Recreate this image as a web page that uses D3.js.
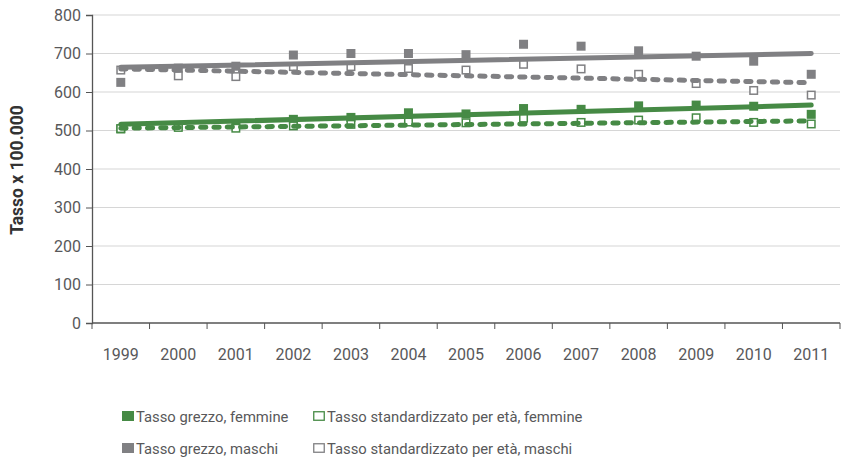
<!DOCTYPE html>
<html><head><meta charset="utf-8">
<script src="https://cdn.jsdelivr.net/npm/d3@7"></script>
<style>
html,body{margin:0;padding:0;background:#fff;}
svg text{font-family:Roboto,"Liberation Sans",sans-serif;}
</style></head>
<body>
<svg id="chart" width="843" height="464"></svg>
<script>
const years = ["1999","2000","2001","2002","2003","2004","2005","2006","2007","2008","2009","2010","2011"];
const grezzoFemmine = [504,512,516,529,534,546,543,557,555,564,566,563,542];
const standFemmine  = [505,508,506,512,516,522,520,532,521,527,533,521,517];
const grezzoMaschi  = [625,662,667,696,700,700,697,724,719,707,693,680,646];
const standMaschi   = [657,642,640,666,666,661,657,672,660,646,622,604,592];
// trend line endpoints (1999, 2011)
const trendGrezzoF = [516,566];
const trendStandF  = [506,525];
const trendGrezzoM = [664,700];
const trendStandM  = [660,624];
const yTicks = [0,100,200,300,400,500,600,700,800];
const legendLabels = ["Tasso grezzo, femmine","Tasso standardizzato per età, femmine","Tasso grezzo, maschi","Tasso standardizzato per età, maschi"];

const GREEN = "#468a45", GRAY = "#808083";
const svg = d3.select("#chart");
const x = d3.scaleBand().domain(years).range([92,840]).padding(0);
const y = d3.scaleLinear().domain([0,800]).range([323,15]);
const cx = d => x(d) + x.bandwidth()/2;

// gridlines
svg.append("g").selectAll("line").data(yTicks.filter(t=>t>0)).join("line")
  .attr("x1",92).attr("x2",840).attr("y1",d=>y(d)).attr("y2",d=>y(d))
  .attr("stroke","#d6d6d6").attr("stroke-width",1.2);

// y axis
const yAxis = svg.append("g").attr("transform","translate(92,0)")
  .call(d3.axisLeft(y).tickValues(yTicks).tickSize(6).tickPadding(5));
yAxis.select(".domain").attr("stroke","#555").attr("stroke-width",1.3);
yAxis.selectAll(".tick line").attr("stroke","#555");
yAxis.selectAll("text").attr("fill","#58585a").style("font-size","16px");

// x axis with ticks at band boundaries
const xg = svg.append("g");
xg.append("line").attr("x1",92).attr("x2",840).attr("y1",323).attr("y2",323).attr("stroke","#555").attr("stroke-width",1.3);
xg.selectAll("line.t").data(years.concat(["end"])).join("line").attr("class","t")
  .attr("x1",(d,i)=> i<years.length ? x(d) : x(years[years.length-1])+x.bandwidth())
  .attr("x2",(d,i)=> i<years.length ? x(d) : x(years[years.length-1])+x.bandwidth())
  .attr("y1",323).attr("y2",329).attr("stroke","#555");
xg.selectAll("text").data(years).join("text")
  .attr("x",d=>cx(d)).attr("y",360).attr("text-anchor","middle")
  .attr("fill","#58585a").style("font-size","16px").text(d=>d);

// y title
svg.append("text").attr("transform","translate(23,170) rotate(-90)")
  .attr("text-anchor","middle").attr("font-weight","bold").attr("fill","#333")
  .style("font-size","17.5px").text("Tasso x 100.000");

const S = 9;
function filled(data,color){
  svg.append("g").selectAll("rect").data(data).join("rect")
    .attr("x",(d,i)=>cx(years[i])-S/2).attr("y",d=>y(d)-S/2)
    .attr("width",S).attr("height",S).attr("fill",color);
}
function hollow(data,color){
  svg.append("g").selectAll("rect").data(data).join("rect")
    .attr("x",(d,i)=>cx(years[i])-S/2+0.75).attr("y",d=>y(d)-S/2+0.75)
    .attr("width",S-1.5).attr("height",S-1.5).attr("fill","#fff").attr("stroke",color).attr("stroke-width",1.5);
}
filled(grezzoMaschi,GRAY);
hollow(standMaschi,GRAY);
filled(grezzoFemmine,GREEN);
hollow(standFemmine,GREEN);

const endpoints = [years[0], years[years.length-1]];
const line = d3.line().x((d,i)=>cx(endpoints[i])).y(d=>y(d));
function trend(vals,color,dashed){
  const p = svg.append("path").datum(vals).attr("d",line).attr("fill","none")
    .attr("stroke",color).attr("stroke-width",5).attr("stroke-linecap","round");
  if(dashed) p.attr("stroke-dasharray","5.3,8");
}
trend(trendStandM,GRAY,true);
trend(trendGrezzoM,GRAY,false);
trend(trendStandF,GREEN,true);
trend(trendGrezzoF,GREEN,false);

// legend
const leg = [
  {x:122,y:416,label:legendLabels[0],color:GREEN,fill:true},
  {x:313,y:416,label:legendLabels[1],color:GREEN,fill:false},
  {x:122,y:448,label:legendLabels[2],color:GRAY,fill:true},
  {x:313,y:448,label:legendLabels[3],color:GRAY,fill:false}
];
const lg = svg.append("g").selectAll("g").data(leg).join("g");
lg.append("rect")
  .attr("x",d=>d.fill? d.x : d.x+0.75).attr("y",d=>d.fill? d.y-5 : d.y-4.25)
  .attr("width",d=>d.fill?12:10.5).attr("height",d=>d.fill?10:8.5)
  .attr("fill",d=>d.fill?d.color:"#fff").attr("stroke",d=>d.fill?"none":d.color).attr("stroke-width",1.3);
lg.append("text").attr("x",d=>d.x+14).attr("y",d=>d.y+5.5)
  .attr("fill","#58585a").style("font-size","14.8px").text(d=>d.label);
</script>
</body></html>
